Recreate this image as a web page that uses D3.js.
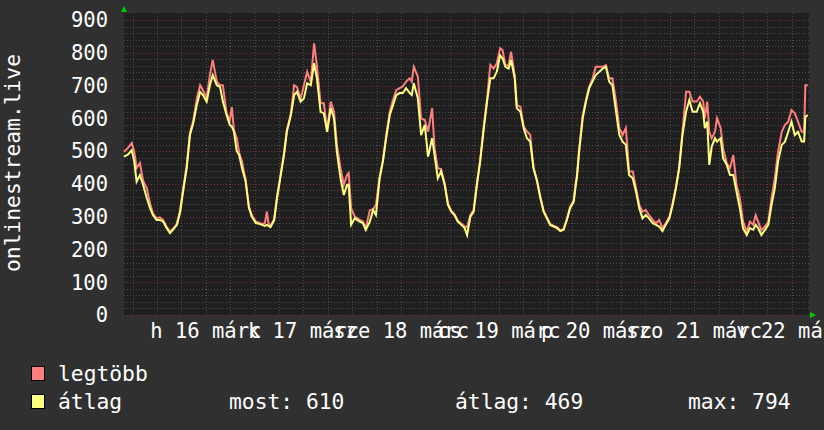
<!DOCTYPE html>
<html><head><meta charset="utf-8">
<script src="https://cdn.jsdelivr.net/npm/d3@7"></script>
<style>html,body{margin:0;padding:0;background:#303030;}svg{display:block}</style>
</head><body><svg id="c" width="824" height="430"></svg>
<script>
// ---- data (hours since start of the graph window) ----
const hours = [0.0,1.0,1.9,2.5,3.1,3.9,4.7,5.6,6.4,7.1,8.0,8.8,9.6,10.5,11.3,12.0,13.0,13.8,14.5,15.4,16.2,17.0,17.9,18.7,19.4,20.3,21.1,21.8,22.8,23.6,24.3,25.2,26.0,26.5,27.0,27.7,28.3,29.0,29.9,30.7,31.4,32.4,33.2,33.9,34.6,35.1,35.5,36.0,36.9,37.6,38.5,39.3,40.0,41.0,41.8,42.5,43.4,44.2,45.0,45.9,46.7,47.4,48.3,49.1,49.9,50.8,51.6,52.3,53.2,54.0,54.8,55.2,55.8,56.7,57.9,58.7,59.4,60.4,61.2,61.9,62.8,63.6,64.4,65.3,66.1,66.9,67.7,68.5,69.3,70.2,70.7,71.2,72.2,73.0,73.9,74.7,75.7,76.3,77.1,77.9,78.8,79.6,80.4,81.2,82.0,82.9,83.7,84.3,85.1,85.9,86.7,87.5,88.4,89.2,90.0,90.8,91.6,92.4,93.0,93.7,94.5,95.1,96.0,96.5,97.4,98.2,99.0,99.8,100.6,101.5,102.3,103.1,103.9,104.7,105.6,106.4,107.2,108.0,108.8,109.6,110.5,111.0,111.3,111.8,112.7,113.5,114.3,115.1,115.9,116.8,117.6,118.4,119.2,120.0,120.9,121.7,122.5,123.3,124.1,125.0,125.8,126.6,127.4,128.2,129.0,129.9,130.7,131.5,132.3,133.1,134.0,134.8,135.6,136.4,137.2,138.1,138.9,139.7,140.7,141.5,142.3,142.7,143.3,143.8,144.4,145.2,145.7,146.6,147.2,148.1,148.9,149.7,150.5,151.3,152.1,153.0,153.8,154.6,155.2,155.8,156.6,157.5,158.3,159.1,159.9,160.7,161.6,162.4,163.2,164.0,164.8,165.6,166.5,167.1,167.4,168.0];
const maxVals = [498,510,525,500,448,464,410,387,340,310,295,298,290,268,255,262,278,320,382,455,555,592,661,701,686,661,732,778,712,701,701,615,595,634,564,540,495,468,410,330,305,285,282,278,280,315,280,272,292,360,430,492,562,615,701,695,660,701,742,710,829,760,646,646,565,651,620,520,448,397,427,433,326,300,290,285,265,320,322,336,420,470,545,620,656,686,692,697,712,722,712,757,727,600,595,559,631,509,448,445,400,340,318,308,288,278,270,268,305,320,400,472,575,660,763,752,768,814,808,762,762,803,730,641,635,575,560,550,452,410,360,318,298,278,272,268,258,262,292,330,350,405,430,500,610,655,697,720,757,757,757,762,722,722,651,570,549,570,438,438,387,336,315,320,305,290,280,290,265,280,300,340,390,450,555,681,681,651,651,666,651,600,651,559,539,559,600,570,509,463,448,488,397,357,285,254,285,275,305,285,259,270,285,357,417,498,559,580,590,625,615,590,559,559,701,701];
const avgVals = [483,490,503,470,407,427,397,357,326,305,290,290,285,265,250,260,275,315,376,448,549,585,641,681,671,651,701,732,701,696,651,610,580,575,560,500,488,448,407,326,300,280,278,275,272,275,272,268,290,357,427,488,559,610,671,681,651,661,707,701,768,722,620,615,559,631,600,498,417,366,397,397,275,295,285,280,260,285,320,305,417,468,540,610,641,671,677,677,692,677,671,707,661,549,580,483,539,488,417,438,397,336,315,305,285,275,265,244,300,315,397,468,570,651,722,722,742,793,783,757,752,778,722,631,620,570,539,529,448,407,357,315,295,275,270,265,256,260,290,326,346,397,420,498,600,651,692,712,732,742,752,757,712,701,620,549,529,519,427,417,376,326,295,305,295,280,275,270,256,275,295,336,387,448,549,620,656,620,620,646,620,570,590,458,514,539,529,539,478,458,427,427,376,326,265,244,265,260,275,265,244,260,275,336,387,468,519,529,559,590,549,559,529,529,605,610];
const yTicks = [0,100,200,300,400,500,600,700,800,900];
const dayNames = ["v","h","k","sze","cs","p","szo"];
const monthName = "márc";
const titleText = "onlinestream.live";
const seriesNames = ["legtöbb","átlag"];
const statLabels = ["most:","átlag:","max:"];
const statValues = [610,469,794];

// ---- layout ----
const L = 124, R = 809, T = 13, B = 315;
const colors = {bg:"#303030", canvas:"#1f1f1f", minor:"#4e4e4e", major:"#7a3232", max:"#ff7f7f", avg:"#ffff7f", text:"#ffffff", arrow:"#00cc00"};
const FONT = "'DejaVu Sans Mono', monospace";

const svg = d3.select("#c");
svg.append("rect").attr("width",824).attr("height",430).attr("fill",colors.bg);

const start = new Date(2020,2,15,15,54);
const HMS = 3600e3;
const end = new Date(+start + 168.3*HMS);
const x = d3.scaleTime().domain([start,end]).range([L,R]);
const y = d3.scaleLinear().domain([0,900]).range([B,20]);

svg.append("rect").attr("x",L).attr("y",T).attr("width",R-L).attr("height",B-T).attr("fill",colors.canvas);

// horizontal grid
const g = svg.append("g").attr("shape-rendering","crispEdges");
d3.range(0,901,20).forEach(v=>{
  const major = v%100===0;
  g.append("line").attr("x1",L).attr("x2",R).attr("y1",Math.round(y(v))+0.5).attr("y2",Math.round(y(v))+0.5)
    .attr("stroke",major?colors.major:colors.minor).attr("stroke-dasharray","1,2");
});
// vertical grid
d3.timeHour.every(6).range(start,end).forEach(t=>{
  const major = t.getHours()===0;
  const px = Math.round(x(t))+0.5;
  g.append("line").attr("x1",px).attr("x2",px).attr("y1",T).attr("y2",B)
    .attr("stroke",major?colors.major:colors.minor).attr("stroke-dasharray","1,2");
});

// series
const pts = hours.map((h,i)=>({t:new Date(+start+h*HMS), mx:maxVals[i], av:avgVals[i]}));
const lmax = d3.line().x(d=>x(d.t)).y(d=>y(d.mx));
const lavg = d3.line().x(d=>x(d.t)).y(d=>y(d.av));
svg.append("path").datum(pts).attr("d",lmax).attr("fill","none").attr("stroke",colors.max).attr("stroke-width",2).attr("stroke-linejoin","miter");
svg.append("path").datum(pts).attr("d",lavg).attr("fill","none").attr("stroke",colors.avg).attr("stroke-width",2).attr("stroke-linejoin","miter");

// arrows
svg.append("path").attr("d",`M${L-3},${T-1}L${L+3},${T-1}L${L},${T-7}Z`).attr("fill",colors.arrow);
svg.append("path").attr("d",`M${R+1},${B-3}L${R+1},${B+3}L${R+7},${B}Z`).attr("fill",colors.arrow);

// y labels
yTicks.forEach(v=>{
  svg.append("text").attr("x",108).attr("y",y(v)).attr("dy","0.36em").attr("text-anchor","end")
    .attr("font-family",FONT).attr("font-size","20.5px").attr("fill",colors.text).text(v);
});

// x labels (centered at noon of each day)
d3.timeDay.range(d3.timeDay.floor(start), end).forEach(d=>{
  const noon = d3.timeHour.offset(d,12);
  if(noon < start || noon > end) return;
  const s = dayNames[d.getDay()]+" "+d.getDate()+" "+monthName;
  svg.append("text").attr("x",x(noon)).attr("y",338).attr("text-anchor","middle")
    .attr("font-family",FONT).attr("font-size","20.5px").attr("fill",colors.text).text(s);
});

// title
svg.append("text").attr("transform","translate(20,163) rotate(-90)").attr("text-anchor","middle")
  .attr("font-family",FONT).attr("font-size","21.3px").attr("fill",colors.text).text(titleText);

// legend
const legY = [381,409];
[colors.max, colors.avg].forEach((c,i)=>{
  svg.append("rect").attr("x",31.5).attr("y",legY[i]-14.5).attr("width",13).attr("height",14).attr("fill",c).attr("stroke","#000").attr("stroke-width",1);
  svg.append("text").attr("x",58).attr("y",legY[i]).attr("font-family",FONT).attr("font-size","21.3px").attr("fill",colors.text).text(seriesNames[i]);
});
const statX = [229,455,688];
statLabels.forEach((s,i)=>{
  svg.append("text").attr("x",statX[i]).attr("y",legY[1]).attr("font-family",FONT).attr("font-size","21.3px").attr("fill",colors.text).text(s+" "+statValues[i]);
});
</script></body></html>
